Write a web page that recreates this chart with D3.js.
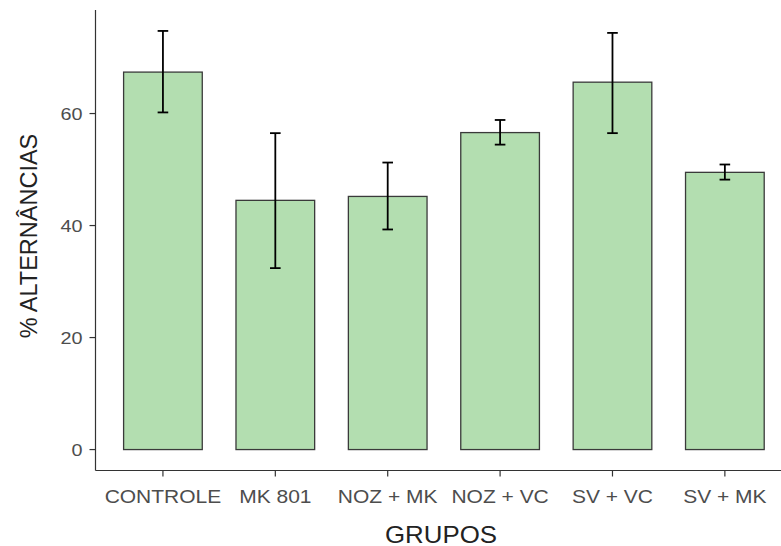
<!DOCTYPE html>
<html>
<head>
<meta charset="utf-8">
<script src="https://cdn.jsdelivr.net/npm/d3@7"></script>
<style>
  body { margin: 0; background: #fff; }
  text { font-family: "Liberation Sans", Arial, sans-serif; }
</style>
</head>
<body>
<div id="chart"></div>
<script>
;(function(d3){

    'use strict';

    // grupos e medias (% alternancias), com limites das barras de erro
    var groups = ['CONTROLE', 'MK 801', 'NOZ + MK', 'NOZ + VC', 'SV + VC', 'SV + MK'];
    var means = [67.4, 44.5, 45.2, 56.6, 65.6, 49.5];
    var upper = [74.75, 56.5, 51.25, 58.85, 74.4, 50.9];
    var lower = [60.2, 32.4, 39.3, 54.45, 56.5, 48.2];
    var yTicks = [0, 20, 40, 60];

    var W = 781, H = 546;
    var left = 95.5, right = 792.3, top = 10, bottom = 470.5;

    var svg = d3.select('#chart')
                .append('svg')
                .attr('width', W)
                .attr('height', H);

    var hi = d3.max(upper), lo = 0;
    var pad = (hi - lo) * 0.05;

    var y = d3.scaleLinear()
              .domain([lo - pad, hi + pad])
              .range([bottom, top]);

    var x = d3.scaleBand()
              .domain(groups)
              .range([left, right])
              .paddingInner(0.3)
              .paddingOuter(0.25);

    var rows = groups.map(function(g, i){
        return {g: g, m: means[i], up: upper[i], lo: lower[i]};
    });

    // barras
    svg.selectAll('rect.bar')
       .data(rows)
       .enter().append('rect')
       .attr('class', 'bar')
       .attr('x', function(d){ return x(d.g); })
       .attr('width', x.bandwidth())
       .attr('y', function(d){ return y(d.m); })
       .attr('height', function(d){ return y(0) - y(d.m); })
       .attr('fill', '#b3deb0')
       .attr('stroke', '#3a3a3a')
       .attr('stroke-width', 1.3);

    // barras de erro
    var cap = 5.3;
    var eb = svg.selectAll('g.err')
                .data(rows)
                .enter().append('g')
                .attr('class', 'err')
                .attr('stroke', '#000')
                .attr('stroke-width', 1.8);

    eb.append('line')
      .attr('x1', function(d){ return x(d.g) + x.bandwidth() / 2; })
      .attr('x2', function(d){ return x(d.g) + x.bandwidth() / 2; })
      .attr('y1', function(d){ return y(d.up); })
      .attr('y2', function(d){ return y(d.lo); });

    eb.append('line')
      .attr('x1', function(d){ return x(d.g) + x.bandwidth() / 2 - cap; })
      .attr('x2', function(d){ return x(d.g) + x.bandwidth() / 2 + cap; })
      .attr('y1', function(d){ return y(d.up); })
      .attr('y2', function(d){ return y(d.up); });

    eb.append('line')
      .attr('x1', function(d){ return x(d.g) + x.bandwidth() / 2 - cap; })
      .attr('x2', function(d){ return x(d.g) + x.bandwidth() / 2 + cap; })
      .attr('y1', function(d){ return y(d.lo); })
      .attr('y2', function(d){ return y(d.lo); });

    // eixos
    var axisCol = '#333';

    svg.append('line')
       .attr('x1', left).attr('x2', left)
       .attr('y1', top).attr('y2', bottom)
       .attr('stroke', axisCol).attr('stroke-width', 1.2);

    svg.append('line')
       .attr('x1', left).attr('x2', W + 20)
       .attr('y1', bottom).attr('y2', bottom)
       .attr('stroke', axisCol).attr('stroke-width', 1.2);

    var yt = svg.selectAll('g.ytick')
                .data(yTicks)
                .enter().append('g')
                .attr('class', 'ytick')
                .attr('transform', function(d){ return 'translate(0,' + y(d) + ')'; });

    yt.append('line')
      .attr('x1', left - 6).attr('x2', left)
      .attr('stroke', axisCol).attr('stroke-width', 1.2);

    yt.append('text')
      .attr('transform', 'translate(' + (left - 13) + ',6) scale(1.2,1)')
      .attr('text-anchor', 'end')
      .attr('font-size', '16.5px')
      .attr('fill', '#4d4d4d')
      .text(function(d){ return d; });

    var xt = svg.selectAll('g.xtick')
                .data(groups)
                .enter().append('g')
                .attr('class', 'xtick')
                .attr('transform', function(d){ return 'translate(' + (x(d) + x.bandwidth() / 2) + ',0)'; });

    xt.append('line')
      .attr('y1', bottom).attr('y2', bottom + 6)
      .attr('stroke', axisCol).attr('stroke-width', 1.2);

    xt.append('text')
      .attr('transform', 'translate(0,502.5) scale(1.2,1)')
      .attr('text-anchor', 'middle')
      .attr('font-size', '17.5px')
      .attr('fill', '#4d4d4d')
      .text(function(d){ return d; });

    // titulos
    svg.append('text')
       .attr('transform', 'translate(441,542.5) scale(1.1,1)')
       .attr('text-anchor', 'middle')
       .attr('font-size', '23.5px')
       .attr('fill', '#222')
       .text('GRUPOS');

    svg.append('text')
       .attr('transform', 'translate(37,236) rotate(-90)')
       .attr('text-anchor', 'middle')
       .attr('font-size', '23.5px')
       .attr('fill', '#222')
       .text('% ALTERNÂNCIAS');

}(window.d3));
</script>
</body>
</html>
